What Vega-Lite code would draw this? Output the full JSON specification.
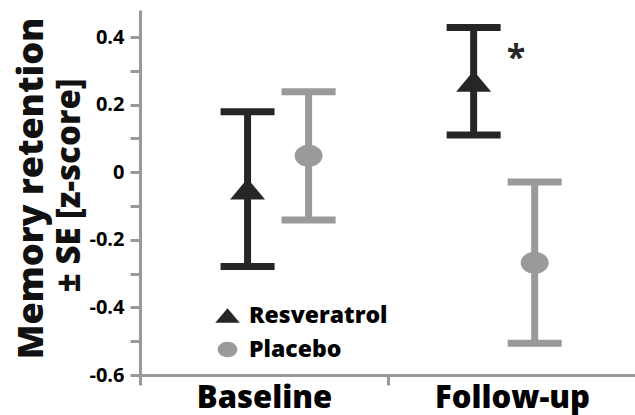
{
  "$schema": "https://vega.github.io/schema/vega-lite/v6.json",
  "width": 496,
  "height": 365,
  "autosize": {"type": "none"},
  "padding": {"left": 140, "top": 10, "right": 0, "bottom": 40},
  "background": "white",
  "config": {"view": {"stroke": null}, "font": "Open Sans"},
  "data": {
    "values": [
      {"time": "Baseline", "group": "Resveratrol", "mean": -0.05, "lo": -0.279, "hi": 0.179},
      {"time": "Baseline", "group": "Placebo", "mean": 0.049, "lo": -0.141, "hi": 0.238},
      {"time": "Follow-up", "group": "Resveratrol", "mean": 0.269, "lo": 0.110, "hi": 0.428},
      {"time": "Follow-up", "group": "Placebo", "mean": -0.268, "lo": -0.506, "hi": -0.029}
    ]
  },
  "layer": [
    {
      "mark": {"type": "rule", "strokeWidth": 7, "opacity": 1},
      "encoding": {
        "x": {"field": "time", "type": "nominal", "scale": {"domain": ["Baseline", "Follow-up"], "paddingInner": 0, "paddingOuter": 0.097}, "axis": null},
        "xOffset": {"field": "group", "type": "nominal", "scale": {"domain": ["Resveratrol", "Placebo"], "paddingInner": 0, "paddingOuter": 0.852, "align": 0.53}},
        "y": {
          "field": "lo",
          "type": "quantitative",
          "scale": {"domain": [-0.6, 0.48], "nice": false, "zero": false},
          "axis": {
            "orient": "left",
            "values": [-0.6, -0.5, -0.4, -0.3, -0.2, -0.1, 0, 0.1, 0.2, 0.3, 0.4],
            "labelExpr": "abs(round(datum.value*10))%2==0 ? replace(format(datum.value,'.1~f'),'−','-') : ''",
            "labelFont": "Open Sans",
            "labelFontSize": 20,
            "labelFontWeight": "bold",
            "labelColor": "#000000",
            "labelPadding": 6,
            "tickSize": 10,
            "tickWidth": 3,
            "tickColor": "#999999",
            "domainColor": "#999999",
            "domainWidth": 3,
            "grid": false,
            "title": "± SE [z-score]",
            "titleFont": "Open Sans",
            "titleFontSize": 33,
            "titleFontWeight": 800,
            "titleColor": "#111111",
            "titleAngle": -90,
            "titleAlign": "center",
            "titleBaseline": "alphabetic",
            "titleX": -61,
            "titleY": 175
          }
        },
        "y2": {"field": "hi"},
        "color": {"field": "group", "type": "nominal"}
      }
    },
    {
      "mark": {"type": "tick", "thickness": 7, "size": 54, "opacity": 1},
      "encoding": {
        "x": {"field": "time", "type": "nominal", "scale": {"domain": ["Baseline", "Follow-up"], "paddingInner": 0, "paddingOuter": 0.097}, "axis": null},
        "xOffset": {"field": "group", "type": "nominal", "scale": {"domain": ["Resveratrol", "Placebo"], "paddingInner": 0, "paddingOuter": 0.852, "align": 0.53}},
        "y": {"field": "lo", "type": "quantitative", "axis": null},
        "color": {"field": "group", "type": "nominal"}
      }
    },
    {
      "mark": {"type": "tick", "thickness": 7, "size": 54, "opacity": 1},
      "encoding": {
        "x": {"field": "time", "type": "nominal", "scale": {"domain": ["Baseline", "Follow-up"], "paddingInner": 0, "paddingOuter": 0.097}, "axis": null},
        "xOffset": {"field": "group", "type": "nominal", "scale": {"domain": ["Resveratrol", "Placebo"], "paddingInner": 0, "paddingOuter": 0.852, "align": 0.53}},
        "y": {"field": "hi", "type": "quantitative", "axis": null},
        "color": {"field": "group", "type": "nominal"}
      }
    },
    {
      "mark": {"type": "point", "filled": true, "opacity": 1, "strokeWidth": 0, "size": 1225},
      "encoding": {
        "x": {"field": "time", "type": "nominal", "scale": {"domain": ["Baseline", "Follow-up"], "paddingInner": 0, "paddingOuter": 0.097}, "axis": null},
        "xOffset": {"field": "group", "type": "nominal", "scale": {"domain": ["Resveratrol", "Placebo"], "paddingInner": 0, "paddingOuter": 0.852, "align": 0.53}},
        "y": {
          "field": "mean",
          "type": "quantitative",
          "axis": {
            "orient": "left",
            "labels": false,
            "ticks": false,
            "domain": false,
            "grid": false,
            "title": "Memory retention",
            "titleFont": "Open Sans",
            "titleFontSize": 36,
            "titleFontWeight": 800,
            "titleColor": "#111111",
            "titleAngle": -90,
            "titleAlign": "center",
            "titleBaseline": "alphabetic",
            "titleX": -98,
            "titleY": 178
          }
        },
        "color": {
          "field": "group",
          "type": "nominal",
          "scale": {"domain": ["Resveratrol", "Placebo"], "range": ["#262626", "#9a9a9a"]},
          "legend": {
            "title": null,
            "orient": "none",
            "legendX": 75,
            "legendY": 293,
            "padding": 0,
            "symbolSize": 600,
            "symbolStrokeWidth": 0,
            "labelFont": "Open Sans",
            "labelFontSize": 23,
            "labelFontWeight": 800,
            "labelColor": "#000000",
            "labelOffset": 9,
            "rowPadding": 9
          }
        },
        "shape": {
          "field": "group",
          "type": "nominal",
          "scale": {"domain": ["Resveratrol", "Placebo"], "range": ["M-1,0.6L1,0.6L0,-0.6Z", "M-0.8,0A0.8,0.63,0,1,1,0.8,0A0.8,0.63,0,1,1,-0.8,0Z"]},
          "legend": {
            "title": null,
            "orient": "none",
            "legendX": 75,
            "legendY": 293,
            "padding": 0,
            "symbolSize": 600,
            "symbolStrokeWidth": 0,
            "labelFont": "Open Sans",
            "labelFontSize": 23,
            "labelFontWeight": 800,
            "labelColor": "#000000",
            "labelOffset": 9,
            "rowPadding": 9
          }
        }
      }
    },
    {
      "data": {"values": [{"time": "Follow-up", "label": "*", "pos": 0.305}]},
      "mark": {"type": "text", "font": "Open Sans", "fontSize": 34, "fontWeight": "bold", "baseline": "alphabetic", "align": "center", "dx": 4, "color": "#262626"},
      "encoding": {
        "x": {
          "field": "time",
          "type": "nominal",
          "scale": {"domain": ["Baseline", "Follow-up"], "paddingInner": 0, "paddingOuter": 0},
          "axis": {
            "title": null,
            "labelAngle": 0,
            "labelFont": "Open Sans",
            "labelFontSize": 31,
            "labelFontWeight": 800,
            "labelColor": "#000000",
            "labelBaseline": "alphabetic",
            "labelPadding": 22,
            "tickSize": 10,
            "tickWidth": 3,
            "tickColor": "#999999",
            "tickBand": "extent",
            "domainColor": "#999999",
            "domainWidth": 3,
            "grid": false
          }
        },
        "y": {"field": "pos", "type": "quantitative", "axis": null},
        "text": {"field": "label"}
      }
    }
  ],
  "resolve": {"scale": {"x": "independent"}, "axis": {"x": "independent", "y": "independent"}}
}
